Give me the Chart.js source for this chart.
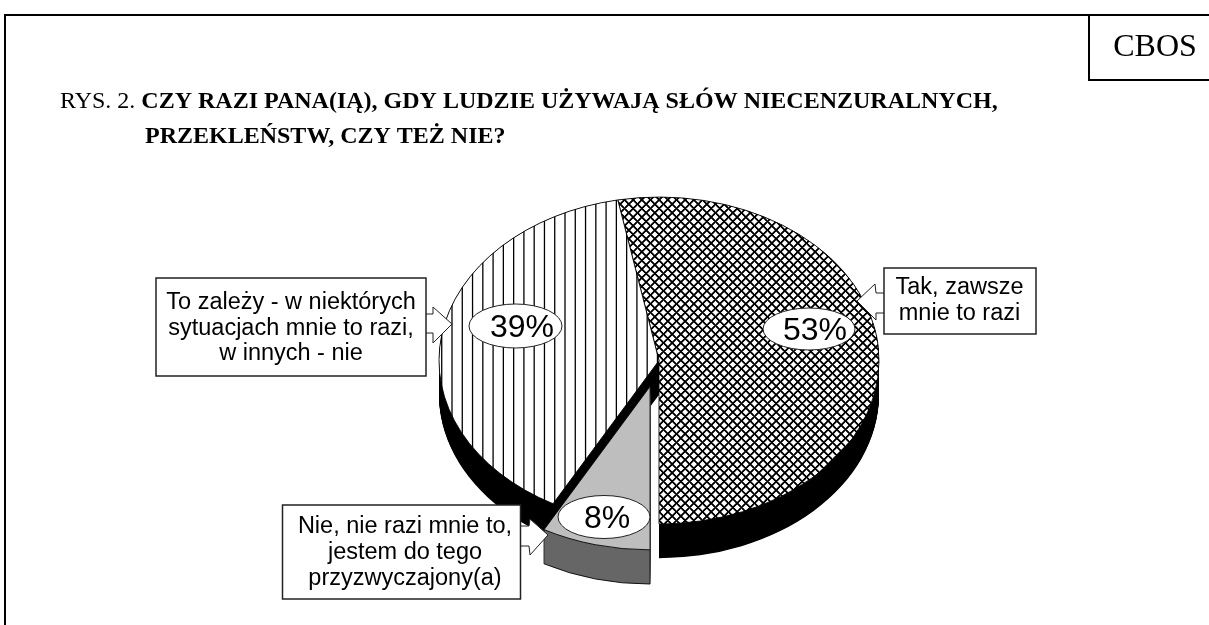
<!DOCTYPE html>
<html lang="pl">
<head>
<meta charset="utf-8">
<title>CBOS</title>
<script src="https://cdn.jsdelivr.net/npm/chart.js@4"></script>
<style>
  html, body { margin: 0; background: #fff; overflow: hidden; }
  canvas { display: block; }
</style>
</head>
<body>
<canvas id="pie" width="1209" height="625"></canvas>
<script>
// data
const categories = ['Tak, zawsze mnie to razi', 'Nie, nie razi mnie to, jestem do tego przyzwyczajony(a)', 'To zależy - w niektórych sytuacjach mnie to razi, w innych - nie']
const values = [53, 8, 39]
const calloutLines = [
  ['Tak, zawsze', 'mnie to razi'],
  ['Nie, nie razi mnie to,', 'jestem do tego', 'przyzwyczajony(a)'],
  ['To zależy - w niektórych', 'sytuacjach mnie to razi,', 'w innych - nie']
]
const titleLead = 'RYS. 2. '
const titleLines = ['CZY RAZI PANA(IĄ), GDY LUDZIE UŻYWAJĄ SŁÓW NIECENZURALNYCH,', 'PRZEKLEŃSTW, CZY TEŻ NIE?']
const source = 'CBOS'

// look of the pie
const padLeft = 109
const padTop = 96
const squash = 0.743
const depth = 46
const explodedIndex = 1
const explode = 36
const sideColors = ['#000', '#666', '#000']

// where the annotation bits go, same order as values
const bubbles = [
  { x: 809, y: 329, rx: 46, ry: 21, tx: 815, ty: 340 },
  { x: 604, y: 517, rx: 46, ry: 21.5, tx: 607, ty: 528 },
  { x: 515.5, y: 326, rx: 46.5, ry: 22, tx: 522, ty: 337 }
]
const boxes = [
  { x: 884, y: 268, w: 152, h: 66, cx: 959.5, base: [294, 320],
    arrow: [[884, 293], [876, 293], [875, 284], [857, 301], [876, 320], [876, 313], [884, 313]] },
  { x: 282.5, y: 505, w: 238, h: 94, cx: 405, base: [533, 559, 585],
    arrow: [[520, 526], [529, 526], [530, 519], [548, 535], [530, 555], [529, 546], [520, 546]] },
  { x: 156, y: 278, w: 270, h: 98, cx: 291, base: [309, 335, 360],
    arrow: [[426, 314], [433, 314], [433, 307], [452, 324], [433, 343], [433, 333], [426, 333]] }
]

function stripes() {
  let c = document.createElement('canvas')
  c.width = 113
  c.height = 8
  let g = c.getContext('2d')
  g.fillStyle = '#fff'
  g.fillRect(0, 0, 113, 8)
  g.strokeStyle = '#000'
  g.lineWidth = 1.3
  for (let i = 0; i <= 11; i++) {
    g.beginPath()
    g.moveTo(i * 113 / 11, 0)
    g.lineTo(i * 113 / 11, 8)
    g.stroke()
  }
  return c
}

function crosshatch() {
  // pixel by pixel, the original hatch is stair stepped and not smoothed
  let size = 26
  let period = size / 3
  let width = 2.6
  let c = document.createElement('canvas')
  c.width = size
  c.height = size
  let g = c.getContext('2d')
  let dist = v => {
    let m = ((v % period) + period) % period
    return Math.min(m, period - m)
  }
  for (let y = 0; y < size; y++) {
    for (let x = 0; x < size; x++) {
      let near = Math.min(dist(x + y), dist(x - y))
      let a = Math.max(0, Math.min(1, width / 2 - near + 0.5))
      let v = Math.round(255 * (1 - a))
      g.fillStyle = `rgb(${v}, ${v}, ${v})`
      g.fillRect(x, y, 1, 1)
    }
  }
  return c
}

let ctx = document.getElementById('pie').getContext('2d')
// undo the squash of the pie so the hatch keeps its square cells on whole pixels
let centerY = (padTop + ctx.canvas.height) / 2
let unsquash = new DOMMatrix().scale(1, 1 / squash).translate(0, -centerY * (1 - squash))
let hatchCross = ctx.createPattern(crosshatch(), 'repeat')
hatchCross.setTransform(unsquash)
let hatchLines = ctx.createPattern(stripes(), 'repeat')
hatchLines.setTransform(unsquash)

function wedge(c, arc, shift) {
  c.beginPath()
  c.moveTo(arc.x, arc.y + shift)
  c.arc(arc.x, arc.y + shift, arc.outerRadius, arc.startAngle, arc.endAngle)
  c.closePath()
}

const tiltedPie = {
  id: 'tiltedPie',
  afterDatasetsUpdate(chart) {
    // pull the one slice out of the pie
    let arc = chart.getDatasetMeta(0).data[explodedIndex]
    let mid = (arc.startAngle + arc.endAngle) / 2
    arc.x += Math.cos(mid) * explode
    arc.y += Math.sin(mid) * explode
  },
  beforeDatasetsDraw(chart) {
    let c = chart.ctx
    let arcs = chart.getDatasetMeta(0).data
    let cx = (chart.chartArea.left + chart.chartArea.right) / 2
    let cy = (chart.chartArea.top + chart.chartArea.bottom) / 2
    c.save()
    c.translate(cx, cy)
    c.scale(1, squash)
    c.translate(-cx, -cy)
    // side walls, pulled out slice last
    let order = arcs.map((a, i) => i).filter(i => i !== explodedIndex).concat(explodedIndex)
    order.forEach(i => {
      c.fillStyle = sideColors[i]
      for (let d = 0; d <= depth; d++) {
        wedge(c, arcs[i], d)
        c.fill()
      }
    })
    let arc = arcs[explodedIndex]
    c.strokeStyle = '#000'
    c.lineWidth = 1
    c.beginPath()
    c.arc(arc.x, arc.y + depth, arc.outerRadius, arc.startAngle, arc.endAngle)
    c.lineTo(arc.x + Math.cos(arc.endAngle) * arc.outerRadius, arc.y + Math.sin(arc.endAngle) * arc.outerRadius)
    c.moveTo(arc.x + Math.cos(arc.startAngle) * arc.outerRadius, arc.y + Math.sin(arc.startAngle) * arc.outerRadius)
    c.lineTo(arc.x + Math.cos(arc.startAngle) * arc.outerRadius, arc.y + depth + Math.sin(arc.startAngle) * arc.outerRadius)
    c.stroke()
  },
  afterDatasetsDraw(chart) {
    chart.ctx.restore()
  },
  afterDraw(chart) {
    let c = chart.ctx
    c.save()
    c.textBaseline = 'alphabetic'
    c.textAlign = 'center'

    // percent bubbles
    c.lineWidth = 1
    c.strokeStyle = '#222'
    values.forEach((v, i) => {
      let b = bubbles[i]
      c.beginPath()
      c.ellipse(b.x, b.y, b.rx, b.ry, 0, 0, Math.PI * 2)
      c.fillStyle = '#fff'
      c.fill()
      c.stroke()
      c.fillStyle = '#000'
      c.font = '32px "Liberation Sans"'
      c.fillText(v + '%', b.tx, b.ty)
    })

    // callouts with their block arrows
    boxes.forEach((b, i) => {
      c.beginPath()
      b.arrow.forEach((p, k) => k ? c.lineTo(p[0], p[1]) : c.moveTo(p[0], p[1]))
      c.fillStyle = '#fff'
      c.fill()
      c.strokeStyle = '#222'
      c.lineWidth = 1
      c.stroke()
      c.fillRect(b.x, b.y, b.w, b.h)
      c.lineWidth = 1.5
      c.strokeRect(b.x, b.y, b.w, b.h)
      c.fillStyle = '#000'
      c.font = '23.5px "Liberation Sans"'
      calloutLines[i].forEach((t, k) => c.fillText(t, b.cx, b.base[k]))
    })

    // frame
    c.fillStyle = '#000'
    c.fillRect(4, 14, 1205, 2)
    c.fillRect(4, 14, 2, 611)
    c.fillRect(1088, 14, 2, 67)
    c.fillRect(1088, 79, 121, 2)
    c.font = '32px "Liberation Serif"'
    c.fillText(source, 1155, 56)

    // title
    c.textAlign = 'left'
    c.font = '24px "Liberation Serif"'
    c.fillText(titleLead, 60, 108)
    let lead = c.measureText(titleLead).width
    c.font = 'bold 24px "Liberation Serif"'
    c.fillText(titleLines[0], 60 + lead, 108)
    c.fillText(titleLines[1], 145, 143)
    c.restore()
  }
}

new Chart(ctx, {
  type: 'pie',
  data: {
    labels: categories,
    datasets: [{
      data: values,
      backgroundColor: [hatchCross, '#bebebe', hatchLines],
      borderColor: '#000',
      borderWidth: 1,
      radius: 220,
      clip: false
    }]
  },
  options: {
    responsive: false,
    animation: false,
    rotation: -10.8,
    layout: { padding: { left: padLeft, top: padTop } },
    plugins: {
      legend: { display: false },
      tooltip: { enabled: false }
    }
  },
  plugins: [tiltedPie]
})
</script>
</body>
</html>
